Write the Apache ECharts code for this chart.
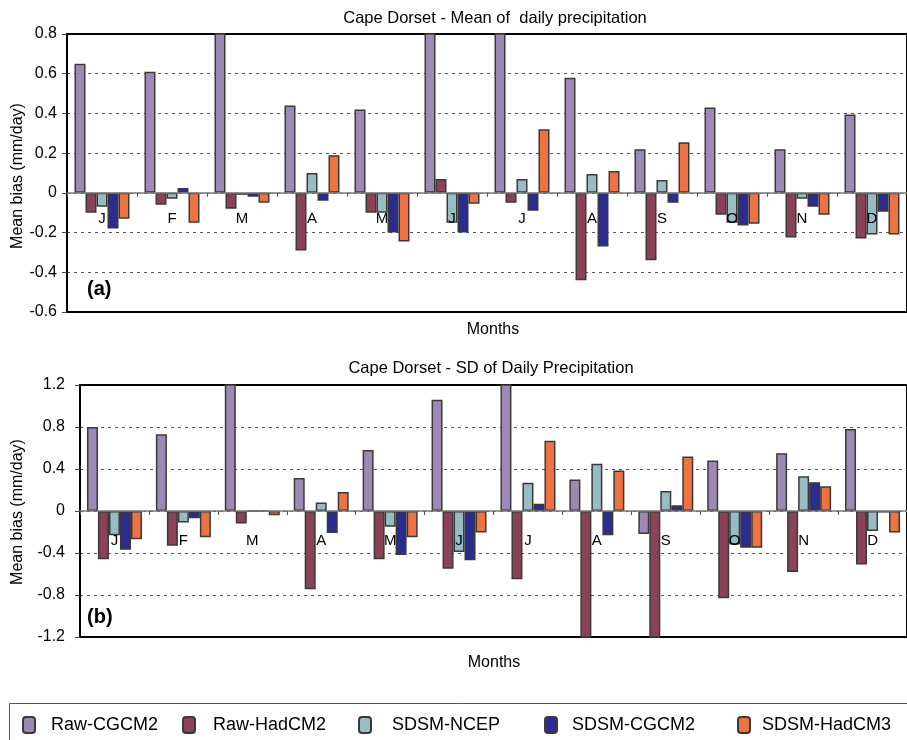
<!DOCTYPE html>
<html>
<head>
<meta charset="utf-8">
<script src="https://cdn.jsdelivr.net/npm/echarts@6/dist/echarts.min.js"></script>
<style>
html,body{margin:0;padding:0;background:#fff;}
#chart{width:907px;height:740px;}
</style>
</head>
<body>
<div id="chart"></div>
<script>
const months = ['J','F','M','A','M','J','J','A','S','O','N','D'];
const seriesNames = ['Raw-CGCM2','Raw-HadCM2','SDSM-NCEP','SDSM-CGCM2','SDSM-HadCM3'];
const colors = ['#9D89B5','#8B4257','#97BCC2','#2A2D8F','#EF7241'];

// (a) Mean of daily precipitation bias (mm/day)
const meanRawCGCM2  = [0.65, 0.61, 0.90, 0.44, 0.42, 0.90, 0.90, 0.58, 0.22, 0.43, 0.22, 0.395];
const meanRawHadCM2 = [-0.10, -0.06, -0.08, -0.29, -0.10, 0.07, -0.05, -0.44, -0.34, -0.11, -0.225, -0.23];
const meanSDSMNCEP  = [-0.07, -0.03, -0.01, 0.10, -0.10, -0.15, 0.07, 0.095, 0.065, -0.15, -0.03, -0.21];
const meanSDSMCGCM2 = [-0.18, 0.025, -0.02, -0.04, -0.20, -0.20, -0.09, -0.27, -0.05, -0.165, -0.07, -0.095];
const meanSDSMHadCM3= [-0.13, -0.15, -0.05, 0.19, -0.245, -0.055, 0.32, 0.11, 0.255, -0.155, -0.11, -0.21];

// (b) SD of daily precipitation bias (mm/day)
const sdRawCGCM2  = [0.80, 0.73, 1.30, 0.315, 0.58, 1.06, 1.30, 0.30, -0.22, 0.48, 0.55, 0.78];
const sdRawHadCM2 = [-0.46, -0.33, -0.12, -0.745, -0.46, -0.55, -0.65, -1.30, -1.30, -0.83, -0.58, -0.51];
const sdSDSMNCEP  = [-0.23, -0.11, 0, 0.08, -0.15, -0.39, 0.27, 0.45, 0.19, -0.32, 0.33, -0.19];
const sdSDSMCGCM2 = [-0.37, -0.07, 0, -0.21, -0.42, -0.47, 0.07, -0.23, 0.055, -0.35, 0.275, -0.015];
const sdSDSMHadCM3= [-0.27, -0.25, -0.04, 0.18, -0.25, -0.205, 0.67, 0.385, 0.52, -0.35, 0.235, -0.205];

const yTicksA = {min: -0.6, max: 0.8, interval: 0.2};
const yTicksB = {min: -1.2, max: 1.2, interval: 0.4};

const meanData = [meanRawCGCM2, meanRawHadCM2, meanSDSMNCEP, meanSDSMCGCM2, meanSDSMHadCM3];
const sdData = [sdRawCGCM2, sdRawHadCM2, sdSDSMNCEP, sdSDSMCGCM2, sdSDSMHadCM3];

const FONT = '"Liberation Sans", Arial, sans-serif';

function xAxisCfg(gridIndex, margin) {
  return {
    type: 'category', gridIndex, data: months, z: 5,
    axisLine: {onZero: true, lineStyle: {color: '#7a7a7a', width: 1.5}},
    axisTick: {show: true, interval: 0, length: 4, lineStyle: {color: '#555'}},
    axisLabel: {interval: 0, margin, fontSize: 15, color: '#000', fontFamily: FONT},
    splitLine: {show: false}
  };
}
function yAxisCfg(gridIndex, t, margin) {
  return {
    type: 'value', gridIndex, min: t.min, max: t.max, interval: t.interval,
    axisLine: {show: true, lineStyle: {color: '#000', width: 2}},
    axisTick: {show: true, length: 5, lineStyle: {color: '#444'}},
    axisLabel: {fontSize: 16, color: '#000', fontFamily: FONT, margin,
      formatter: v => (Math.abs(v) < 1e-9 ? '0' : v.toFixed(1))},
    splitLine: {show: true, showMinLine: false, showMaxLine: false,
      lineStyle: {color: '#555', type: [3, 4], width: 1}}
  };
}

const series = [];
[meanData, sdData].forEach((set, gi) => {
  set.forEach((vals, i) => {
    series.push({
      name: seriesNames[i], type: 'bar', xAxisIndex: gi, yAxisIndex: gi,
      data: vals, barWidth: 11, barGap: '0%', clip: true,
      itemStyle: {color: colors[i], borderColor: '#3a3a3a', borderWidth: 1.5},
      emphasis: {disabled: true}
    });
  });
});

const iconX = [22, 182, 358, 544, 737];
const textPad = [11, 13, 16, 10, 7];
const legends = seriesNames.map((n, i) => ({
  data: [n], left: iconX[i], top: 716, padding: 0,
  itemWidth: 12, itemHeight: 16, selectedMode: false,
  textStyle: {fontSize: 18, color: '#000', fontFamily: FONT, padding: [0, 0, 0, textPad[i]]}
}));

const chart = echarts.init(document.getElementById('chart'), null, {renderer: 'canvas'});
chart.setOption({
  animation: false,
  backgroundColor: '#fff',
  grid: [
    {left: 67, top: 34, width: 851, height: 278, show: true, borderColor: '#000', borderWidth: 2, backgroundColor: 'transparent'},
    {left: 80, top: 385, width: 835, height: 252, show: true, borderColor: '#000', borderWidth: 2, backgroundColor: 'transparent'}
  ],
  xAxis: [xAxisCfg(0, -101), xAxisCfg(1, -104)],
  yAxis: [yAxisCfg(0, yTicksA, 10), yAxisCfg(1, yTicksB, 15)],
  legend: legends,
  series,
  graphic: [
    {type: 'text', x: 495, y: 18, style: {text: 'Cape Dorset - Mean of  daily precipitation', fontSize: 16.5, fontFamily: FONT, fill: '#000', textAlign: 'center', textVerticalAlign: 'middle'}},
    {type: 'text', x: 491, y: 368, style: {text: 'Cape Dorset - SD of Daily Precipitation', fontSize: 16.5, fontFamily: FONT, fill: '#000', textAlign: 'center', textVerticalAlign: 'middle'}},
    {type: 'text', x: 493, y: 330, style: {text: 'Months', fontSize: 16, fontFamily: FONT, fill: '#000', textAlign: 'center', textVerticalAlign: 'middle'}},
    {type: 'text', x: 494, y: 663, style: {text: 'Months', fontSize: 16, fontFamily: FONT, fill: '#000', textAlign: 'center', textVerticalAlign: 'middle'}},
    {type: 'text', x: 18, y: 176, rotation: Math.PI / 2, style: {text: 'Mean bias (mm/day)', fontSize: 16, fontFamily: FONT, fill: '#000', textAlign: 'center', textVerticalAlign: 'middle'}},
    {type: 'text', x: 18, y: 512, rotation: Math.PI / 2, style: {text: 'Mean bias (mm/day)', fontSize: 16, fontFamily: FONT, fill: '#000', textAlign: 'center', textVerticalAlign: 'middle'}},
    {type: 'text', x: 87, y: 289, style: {text: '(a)', fontSize: 20, fontWeight: 'bold', fontFamily: FONT, fill: '#000', textVerticalAlign: 'middle'}},
    {type: 'text', x: 87, y: 617, style: {text: '(b)', fontSize: 20, fontWeight: 'bold', fontFamily: FONT, fill: '#000', textVerticalAlign: 'middle'}},
    {type: 'rect', shape: {x: 9.5, y: 703.5, width: 1000, height: 60}, style: {fill: 'none', stroke: '#555', lineWidth: 1}, z: -1}
  ]
});
</script>
</body>
</html>
